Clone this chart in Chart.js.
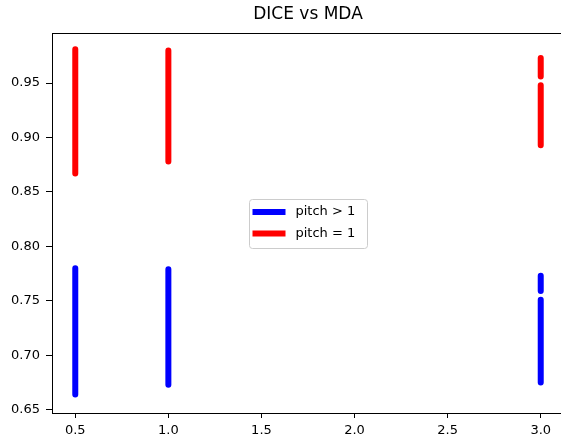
<!DOCTYPE html>
<html>
<head>
<meta charset="utf-8">
<script src="https://cdn.jsdelivr.net/npm/chart.js@4"></script>
<style>
  html, body { margin: 0; padding: 0; background: #fff; overflow: hidden; }
  #wrap { position: relative; width: 580px; height: 443px; }
</style>
</head>
<body>
<div id="wrap"><canvas id="chart"></canvas></div>
<script>
  // data: setiap segmen garis vertikal (x, bawah, atas)
  const segX = [0.5, 1.0, 3.0, 3.0];
  const pitchGt1Low  = [0.664, 0.673, 0.675, 0.759];
  const pitchGt1High = [0.780, 0.779, 0.751, 0.773];
  const pitchEq1Low  = [0.867, 0.878, 0.893, 0.956];
  const pitchEq1High = [0.981, 0.980, 0.948, 0.973];

  const seriesLabels = ['pitch > 1', 'pitch = 1'];
  const seriesColors = ['#0000ff', '#ff0000'];

  function buildSegments(lows, highs) {
    const pts = [];
    segX.forEach(function (x, i) {
      pts.push({ x: x, y: lows[i] });
      pts.push({ x: x, y: highs[i] });
      pts.push({ x: x, y: null });
    });
    return pts;
  }

  const FONT = 'DejaVu Sans';

  // judul, bingkai atas/kanan dan legenda ala matplotlib
  const decorPlugin = {
    id: 'decor',
    afterDraw: function (chart) {
      const ctx = chart.ctx;
      const a = chart.chartArea;
      ctx.save();

      // bingkai
      ctx.strokeStyle = '#000';
      ctx.lineWidth = 1;
      ctx.strokeRect(Math.round(a.left) + 0.5, Math.round(a.top) + 0.5,
        Math.round(a.right - a.left), Math.round(a.bottom - a.top));

      // judul
      ctx.fillStyle = '#000';
      ctx.font = '17px "' + FONT + '"';
      ctx.textAlign = 'center';
      ctx.textBaseline = 'middle';
      ctx.fillText('DICE vs MDA', (a.left + a.right) / 2, 15);

      // legenda di tengah
      const w = 118, h = 49;
      const bx = Math.round((a.left + a.right) / 2 - w / 2) + 0.5;
      const by = Math.round((a.top + a.bottom) / 2 - h / 2) + 0.5;
      ctx.beginPath();
      ctx.roundRect(bx, by, w, h, 3);
      ctx.fillStyle = 'rgba(255,255,255,0.8)';
      ctx.fill();
      ctx.strokeStyle = '#cccccc';
      ctx.stroke();

      ctx.font = '13px "' + FONT + '"';
      ctx.textAlign = 'left';
      chart.data.datasets.forEach(function (ds, i) {
        const cy = by + 12.5 + i * 21.5;
        ctx.beginPath();
        ctx.lineWidth = 6;
        ctx.lineCap = 'butt';
        ctx.strokeStyle = ds.borderColor;
        ctx.moveTo(bx + 3, cy);
        ctx.lineTo(bx + 36, cy);
        ctx.stroke();
        ctx.fillStyle = '#000';
        ctx.fillText(ds.label, bx + 46, cy);
      });
      ctx.restore();
    }
  };

  new Chart(document.getElementById('chart'), {
    type: 'line',
    data: {
      datasets: [{
        label: seriesLabels[0],
        data: buildSegments(pitchGt1Low, pitchGt1High),
        borderColor: seriesColors[0],
        backgroundColor: seriesColors[0],
        borderWidth: 6,
        borderCapStyle: 'round',
        pointRadius: 0,
        spanGaps: false,
        tension: 0
      }, {
        label: seriesLabels[1],
        data: buildSegments(pitchEq1Low, pitchEq1High),
        borderColor: seriesColors[1],
        backgroundColor: seriesColors[1],
        borderWidth: 6,
        borderCapStyle: 'round',
        pointRadius: 0,
        spanGaps: false,
        tension: 0
      }]
    },
    options: {
      responsive: true,
      maintainAspectRatio: false,
      animation: false,
      layout: { padding: { top: 33, right: 16, left: 0, bottom: 0 } },
      plugins: {
        legend: { display: false },
        title: { display: false },
        tooltip: { enabled: false }
      },
      scales: {
        x: {
          type: 'linear',
          min: 0.375,
          max: 3.125,
          afterFit: function (scale) { scale.height = 30; },
          grid: { drawOnChartArea: false, drawTicks: true, tickLength: 5, color: '#000' },
          border: { display: true, color: '#000', width: 1 },
          ticks: {
            stepSize: 0.5,
            includeBounds: false,
            padding: 5,
            maxRotation: 0,
            color: '#000',
            font: { family: FONT, size: 13 },
            callback: function (v) { return v.toFixed(1); }
          }
        },
        y: {
          min: 0.647,
          max: 0.996,
          afterFit: function (scale) { scale.width = 52; },
          grid: { drawOnChartArea: false, drawTicks: true, tickLength: 6, color: '#000' },
          border: { display: true, color: '#000', width: 1 },
          ticks: {
            stepSize: 0.05,
            includeBounds: false,
            padding: 6,
            color: '#000',
            font: { family: FONT, size: 13 },
            callback: function (v) { return v.toFixed(2); }
          }
        }
      }
    },
    plugins: [decorPlugin]
  });
</script>
</body>
</html>
